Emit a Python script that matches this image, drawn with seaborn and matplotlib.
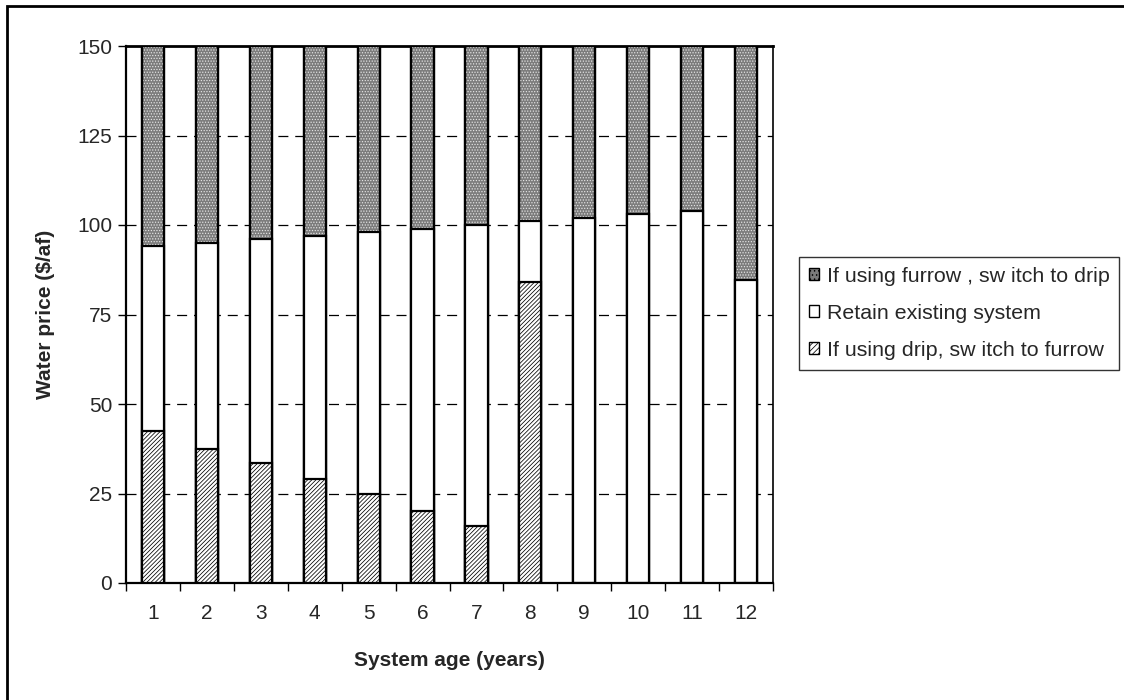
import numpy as np
import pandas as pd
import matplotlib
matplotlib.use("Agg")
import matplotlib.pyplot as plt
import seaborn as sns
from matplotlib.patches import Rectangle, Patch

# ---- data ----
ages = ["1", "2", "3", "4", "5", "6", "7", "8", "9", "10", "11", "12"]
drip_to_furrow = [42.5, 37.5, 33.5, 29, 25, 20, 16, 84, 0, 0, 0, 0]        # top of hatched segment
retain_top = [94, 95, 96, 97, 98, 99, 100, 101, 102, 103, 104, 84.5]        # top of white segment
furrow_to_drip_top = [150] * 12                                               # top of grey segment

legend_labels = ["If using furrow , sw itch to drip",
                 "Retain existing system",
                 "If using drip, sw itch to furrow"]

df = pd.DataFrame({"age": ages, "drip": drip_to_furrow,
                   "retain": retain_top, "furrow": furrow_to_drip_top})

sns.set_theme(style="white")
plt.rcParams["font.family"] = ["Liberation Sans", "DejaVu Sans"]
plt.rcParams["hatch.linewidth"] = 0.55

FS = 15
fig = plt.figure(figsize=(11.24, 7.0), dpi=100)
ax = fig.add_axes([126 / 1124, 1 - 583 / 700, 647 / 1124, 537 / 700])

W = 0.41
EC = "black"
LW = 1.6
GREY = "#7c7c7c"
# grey furrow->drip segment (full stack height)
sns.barplot(data=df, x="age", y="furrow", order=ages, color=GREY,
            width=W, edgecolor=EC, linewidth=LW, saturation=1, ax=ax, zorder=3)
# white dots over grey
sns.barplot(data=df, x="age", y="furrow", order=ages, color="none",
            width=W, edgecolor="#e6e6e6", linewidth=0, hatch="......",
            saturation=1, ax=ax, zorder=3.1)
# redraw grey outline
sns.barplot(data=df, x="age", y="furrow", order=ages, fill=False,
            width=W, edgecolor=EC, linewidth=LW, ax=ax, zorder=3.2)
# retain (white)
sns.barplot(data=df, x="age", y="retain", order=ages, color="white",
            width=W, edgecolor=EC, linewidth=LW, saturation=1, ax=ax, zorder=4)
# drip -> furrow hatched
sns.barplot(data=df, x="age", y="drip", order=ages, color="white",
            width=W, edgecolor=EC, linewidth=LW, hatch="////////",
            saturation=1, ax=ax, zorder=5)

ax.set_xlim(-0.5, 11.5)
ax.set_ylim(0, 150)
ax.set_yticks([0, 25, 50, 75, 100, 125, 150])
ax.set_yticklabels(["0", "25", "50", "75", "100", "125", "150"], fontsize=FS)

# tick marks at category boundaries, labels at centres
ax.set_xticks(np.arange(-0.5, 12, 1))
ax.set_xticklabels([""] * 13)
ax.set_xticks(np.arange(12), minor=True)
ax.set_xticklabels(ages, minor=True, fontsize=FS)
ax.tick_params(axis="x", which="major", direction="out", length=6, width=1,
               color="black", bottom=True)
ax.tick_params(axis="x", which="minor", length=0, pad=15)
ax.tick_params(axis="y", direction="out", length=6, width=1, color="black",
               left=True, pad=4)

for y in [25, 50, 75, 100, 125]:
    ax.axhline(y, color="black", linestyle=(0, (8, 5.5)), linewidth=0.9, zorder=1)

for s in ax.spines.values():
    s.set_visible(True)
    s.set_color("black")
    s.set_linewidth(1.2)
ax.spines["left"].set_linewidth(1.6)
ax.spines["bottom"].set_linewidth(1.6)
ax.spines["top"].set_linewidth(2)

ax.set_xlabel("System age (years)", fontsize=FS, fontweight="bold", labelpad=20)
ax.set_ylabel("Water price ($/af)", fontsize=FS, fontweight="bold", labelpad=16)

handles = [Patch(facecolor=GREY, edgecolor="black", hatch="....", linewidth=1),
           Patch(facecolor="white", edgecolor="black", linewidth=1),
           Patch(facecolor="white", edgecolor="black", hatch="//////", linewidth=1)]
leg = fig.legend(handles, legend_labels, loc="upper left",
                 bbox_to_anchor=(799 / 1124, 1 - 257 / 700), fontsize=15.4,
                 frameon=True, fancybox=False, handlelength=0.5, handleheight=0.5,
                 handletextpad=0.35, labelspacing=0.85, borderpad=0.45,
                 borderaxespad=0)
leg.get_frame().set_edgecolor("black")
leg.get_frame().set_linewidth(1)

# outer chart border (cropped on right/bottom)
fig.patches.append(Rectangle((7 / 1124, -0.1), 1.2, 1.1 - 6 / 700,
                             transform=fig.transFigure, fill=False,
                             edgecolor="black", linewidth=2))

fig.savefig("out.png", dpi=100)
